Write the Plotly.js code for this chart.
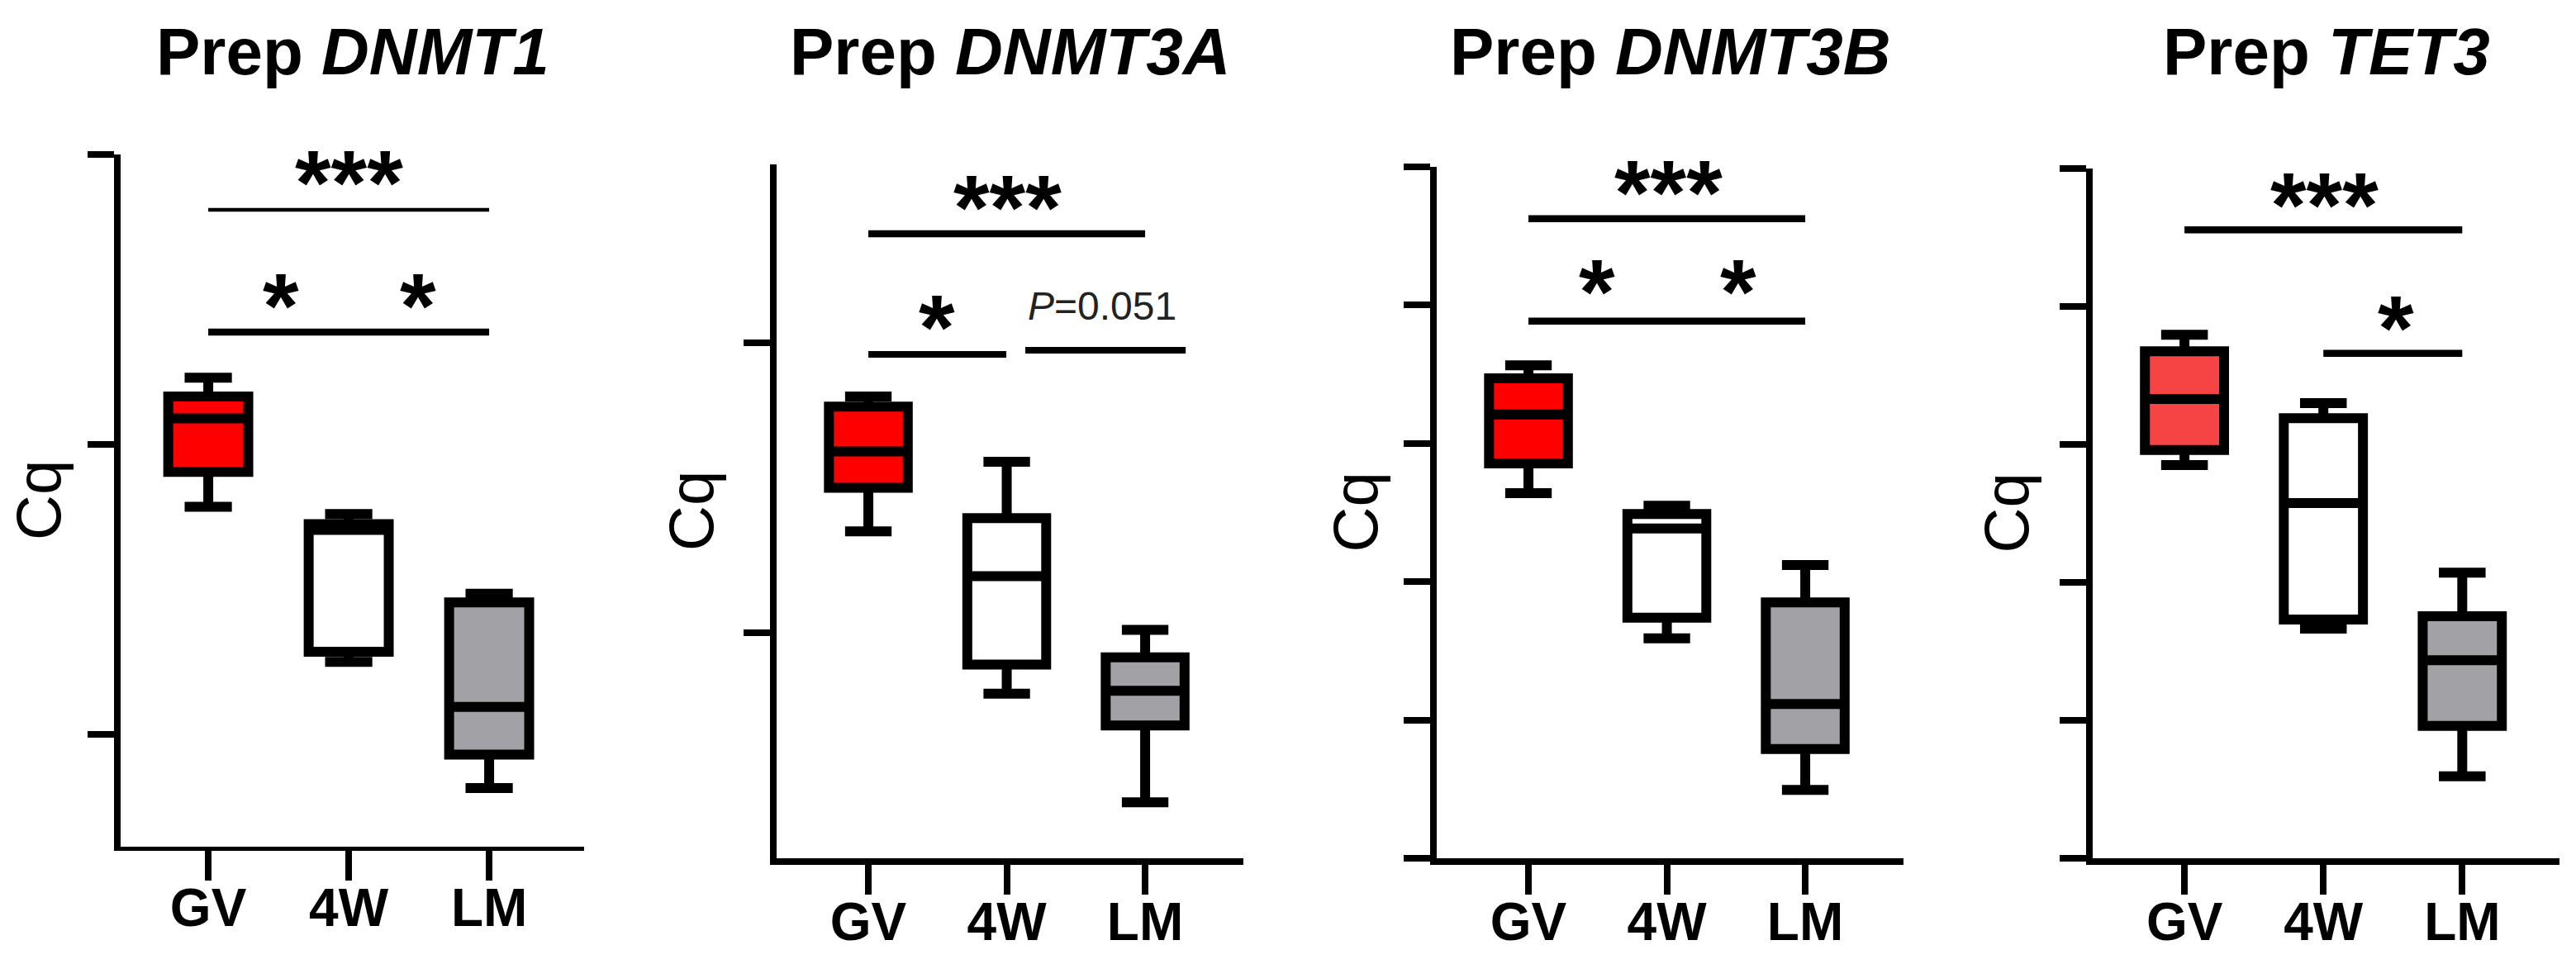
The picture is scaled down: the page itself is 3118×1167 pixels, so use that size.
<!DOCTYPE html>
<html>
<head>
<meta charset="utf-8">
<script src="https://cdn.plot.ly/plotly-3.0.1.min.js"></script>
<style>html,body{margin:0;padding:0;background:#fff;}#chart{width:3118px;height:1167px;}</style>
</head>
<body>
<div id="chart"></div>
<script>
// ---------- DATA (Cq box statistics) ----------
const categories = ['GV', '4W', 'LM'];
const genes = ['DNMT1', 'DNMT3A', 'DNMT3B', 'TET3'];

const dnmt1Upper  = [22.46, 21.52, 20.97];
const dnmt1Q3     = [22.33, 21.45, 20.91];
const dnmt1Median = [22.18, 21.41, 20.19];
const dnmt1Q1     = [21.81, 20.57, 19.86];
const dnmt1Lower  = [21.57, 20.50, 19.63];

const dnmt3aUpper  = [23.63, 23.18, 22.02];
const dnmt3aQ3     = [23.56, 22.79, 21.83];
const dnmt3aMedian = [23.25, 22.39, 21.60];
const dnmt3aQ1     = [23.00, 21.78, 21.36];
const dnmt3aLower  = [22.70, 21.58, 20.83];

const dnmt3bUpper  = [27.13, 25.10, 24.24];
const dnmt3bQ3     = [26.94, 24.98, 23.70];
const dnmt3bMedian = [26.42, 24.77, 22.23];
const dnmt3bQ1     = [25.71, 23.48, 21.58];
const dnmt3bLower  = [25.28, 23.18, 20.99];

const tet3Upper  = [27.59, 26.60, 24.14];
const tet3Q3     = [27.35, 26.38, 23.51];
const tet3Median = [26.66, 25.15, 22.87];
const tet3Q1     = [25.92, 23.46, 21.92];
const tet3Lower  = [25.70, 23.33, 21.19];

const dnmt1Ticks  = [20, 22, 24];
const dnmt3aTicks = [22, 24];
const dnmt3bTicks = [20, 22, 24, 26, 28, 30];
const tet3Ticks   = [20, 22, 24, 26, 28, 30];

// significance brackets: [fromIndex, toIndex, Cq level]
const dnmt1Sig  = [[0, 2, 23.618], [0, 2, 22.775]];
const dnmt3aSig = [[0, 2, 24.752], [0, 0.997, 23.920], [1.134, 2.293, 23.949]];
const dnmt3bSig = [[0, 2, 29.25], [0, 2, 27.77]];
const tet3Sig   = [[0, 2, 29.11], [1, 2, 27.32]];
// significance labels: [x position (index), Cq level, text]
const dnmt1Labels  = [[1.0, 23.915, '***'], [0.518, 23.066, '*'], [1.494, 23.066, '*']];
const dnmt3aLabels = [[1.003, 25.043, '***'], [0.496, 24.217, '*']];
const dnmt3aPLabel = [1.69, 24.256, '<i>P</i>=0.051'];
const dnmt3bLabels = [[1.009, 29.86, '***'], [0.496, 28.43, '*'], [1.516, 28.43, '*']];
const tet3Labels   = [[1.01, 29.71, '***'], [1.52, 27.92, '*']];

// ---------- LAYOUT / STYLE ----------
const W = 3118, H = 1167;
const FONT = 'Liberation Sans, Arial, Helvetica, sans-serif';

const stats = [
  {up: dnmt1Upper, q3: dnmt1Q3, med: dnmt1Median, q1: dnmt1Q1, lo: dnmt1Lower, ticks: dnmt1Ticks, sig: dnmt1Sig, labels: dnmt1Labels},
  {up: dnmt3aUpper, q3: dnmt3aQ3, med: dnmt3aMedian, q1: dnmt3aQ1, lo: dnmt3aLower, ticks: dnmt3aTicks, sig: dnmt3aSig, labels: dnmt3aLabels},
  {up: dnmt3bUpper, q3: dnmt3bQ3, med: dnmt3bMedian, q1: dnmt3bQ1, lo: dnmt3bLower, ticks: dnmt3bTicks, sig: dnmt3bSig, labels: dnmt3bLabels},
  {up: tet3Upper, q3: tet3Q3, med: tet3Median, q1: tet3Q1, lo: tet3Lower, ticks: tet3Ticks, sig: tet3Sig, labels: tet3Labels}
];

// pixel frame of each panel (plot area edges) and axis ranges
const frames = [
  {xl: 146,  xr: 707,  yt: 187, yb: 1025, xrange: [-0.624, 2.676], yrange: [19.225, 24], xlw: 5, cqShift: -100, sigW: [4.6, 8.5]},
  {xl: 940,  xr: 1505, yt: 199, yb: 1039, xrange: [-0.663, 2.71],  yrange: [20.444, 25.231], xlw: 8, cqShift: -104, sigW: [8.5, 8, 8]},
  {xl: 1739, xr: 2304, yt: 202, yb: 1039, xrange: [-0.663, 2.71],  yrange: [20, 30], xlw: 8, cqShift: -99, sigW: [8.5, 8.5]},
  {xl: 2533, xr: 3098, yt: 204, yb: 1039, xrange: [-0.661, 2.70],  yrange: [20, 30], xlw: 8, cqShift: -105, sigW: [8.5, 8.5]}
];
const fills = [
  ['#FF0000', '#FFFFFF', '#A2A1A5'],
  ['#FF0000', '#FFFFFF', '#A2A1A5'],
  ['#FF0000', '#FFFFFF', '#A2A1A5'],
  ['#F64444', '#FFFFFF', '#A2A1A5']
];

const traces = [];
const layout = {
  width: W, height: H,
  margin: {l: 0, r: 0, t: 0, b: 0},
  paper_bgcolor: '#ffffff', plot_bgcolor: 'rgba(0,0,0,0)',
  showlegend: false,
  boxmode: 'overlay',
  shapes: [], annotations: []
};

stats.forEach((s, p) => {
  const f = frames[p];
  const sfx = p === 0 ? '' : String(p + 1);
  const xa = 'x' + sfx, ya = 'y' + sfx;
  categories.forEach((c, i) => {
    traces.push({
      type: 'box', xaxis: xa, yaxis: ya,
      x: [c], q1: [s.q1[i]], median: [s.med[i]], q3: [s.q3[i]],
      lowerfence: [s.lo[i]], upperfence: [s.up[i]],
      width: 0.57, whiskerwidth: 0.59,
      fillcolor: fills[p][i],
      line: {color: '#000000', width: 12},
      boxpoints: false, hoverinfo: 'skip'
    });
  });
  layout['xaxis' + sfx] = {
    domain: [f.xl / W, f.xr / W], anchor: ya,
    type: 'category', categoryorder: 'array', categoryarray: categories,
    range: f.xrange, showgrid: false, zeroline: false,
    showline: true, linecolor: '#000', linewidth: f.xlw,
    ticks: 'outside', ticklen: 36, tickwidth: 8, tickcolor: '#000',
    tickfont: {family: FONT, size: 64, color: '#000', weight: 'bold'},
    ticklabelstandoff: -22, fixedrange: true
  };
  layout['yaxis' + sfx] = {
    domain: [1 - f.yb / H, 1 - f.yt / H], anchor: xa,
    range: f.yrange, showgrid: false, zeroline: false,
    showline: true, linecolor: '#000', linewidth: 8,
    ticks: 'outside', ticklen: 32, tickwidth: 8, tickcolor: '#000',
    tickmode: 'array', tickvals: s.ticks, showticklabels: false, fixedrange: true
  };
  // title
  layout.annotations.push({
    xref: 'paper', yref: 'paper', x: (f.xl + f.xr) / 2 / W, y: 1 - 63 / H,
    xanchor: 'center', yanchor: 'middle', showarrow: false,
    text: '<b>Prep <i>' + genes[p] + '</i></b>',
    font: {family: FONT, size: 80, color: '#000'}
  });
  // y axis title
  layout.annotations.push({
    xref: xa + ' domain', yref: ya + ' domain', x: 0, y: 0.5, xshift: f.cqShift,
    xanchor: 'center', yanchor: 'middle', showarrow: false, textangle: -90,
    text: 'Cq', font: {family: FONT, size: 76, color: '#000'}
  });
  // significance bars
  s.sig.forEach((b, k) => {
    layout.shapes.push({
      type: 'line', xref: xa, yref: ya, x0: b[0], x1: b[1], y0: b[2], y1: b[2],
      line: {color: '#000', width: f.sigW[k]}
    });
  });
  s.labels.forEach(l => {
    layout.annotations.push({
      xref: xa, yref: ya, x: l[0], y: l[1], yshift: -20,
      xanchor: 'center', yanchor: 'middle', showarrow: false,
      text: '<b>' + l[2] + '</b>', font: {family: FONT, size: 112, color: '#000'}
    });
  });
  if (p === 1) {
    layout.annotations.push({
      xref: xa, yref: ya, x: dnmt3aPLabel[0], y: dnmt3aPLabel[1],
      xanchor: 'center', yanchor: 'middle', showarrow: false,
      text: dnmt3aPLabel[2], font: {family: 'Liberation Sans Narrow, ' + FONT, size: 48, color: '#222'}
    });
  }
});

Plotly.newPlot('chart', traces, layout, {staticPlot: true, displayModeBar: false});
</script>
</body>
</html>
